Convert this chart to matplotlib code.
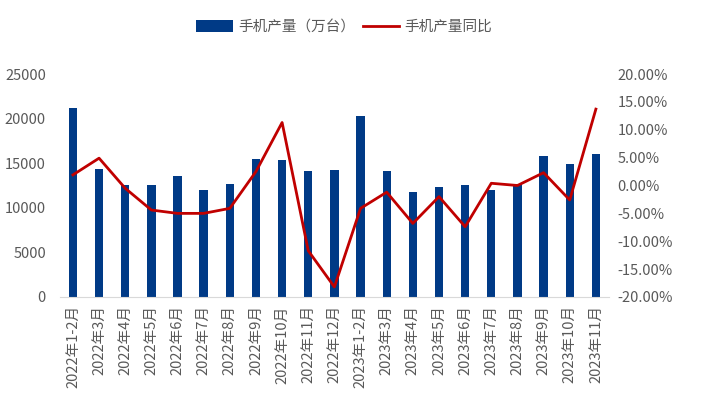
import matplotlib.pyplot as plt
import numpy as np

plt.rcParams['font.family'] = ['Noto Sans CJK SC', 'DejaVu Sans']

# data
months = ['2022年1-2月', '2022年3月', '2022年4月', '2022年5月', '2022年6月', '2022年7月',
          '2022年8月', '2022年9月', '2022年10月', '2022年11月', '2022年12月',
          '2023年1-2月', '2023年3月', '2023年4月', '2023年5月', '2023年6月', '2023年7月',
          '2023年8月', '2023年9月', '2023年10月', '2023年11月']
output = [21200, 14350, 12560, 12560, 13560, 12000, 12670, 15470, 15360, 14130, 14240,
          20290, 14130, 11770, 12330, 12560, 12000, 12670, 15800, 14910, 16030]
yoy = [1.9, 4.9, -0.5, -4.4, -5.0, -5.0, -4.1, 2.5, 11.3, -11.7, -18.2,
       -4.1, -1.2, -6.8, -2.0, -7.4, 0.4, 0.0, 2.3, -2.6, 13.7]

gray = '#595959'
x = np.arange(len(months))

fig = plt.figure(figsize=(7.04, 4.0), dpi=100)
ax = fig.add_axes([0.085, 0.2575, 0.78, 0.5575])
ax2 = ax.twinx()

bars = ax.bar(x, output, width=0.32, color='#003A86', label='手机产量（万台）', zorder=2)
line, = ax2.plot(x, yoy, color='#C00000', lw=2, label='手机产量同比', zorder=3)

ax.set_xlim(-0.5, len(months) - 0.5)
ax.set_ylim(0, 25000)
ax.set_yticks(np.arange(0, 25001, 5000))
ax2.set_ylim(-20, 20)
ax2.set_yticks(np.arange(-20, 21, 5))
ax2.set_yticklabels(['%.2f%%' % v for v in np.arange(-20, 21, 5)])

ax.set_xticks(x)
ax.set_xticklabels(months, rotation=90)

for a in (ax, ax2):
    for s in a.spines.values():
        s.set_visible(False)
    a.tick_params(length=0, colors=gray, labelsize=10.5)
ax.spines['bottom'].set_visible(True)
ax.spines['bottom'].set_color('#D9D9D9')
ax.tick_params(axis='y', pad=10)
ax.tick_params(axis='x', pad=6)
ax2.tick_params(axis='y', pad=6)

fig.legend([bars, line], ['手机产量（万台）', '手机产量同比'], loc='center',
           bbox_to_anchor=(0.489, 0.932), ncol=2, frameon=False, fontsize=10.5,
           labelcolor=gray, handlelength=2.5, handleheight=0.9, columnspacing=0.55,
           handletextpad=0.35)

fig.savefig('out.png', dpi=100)
